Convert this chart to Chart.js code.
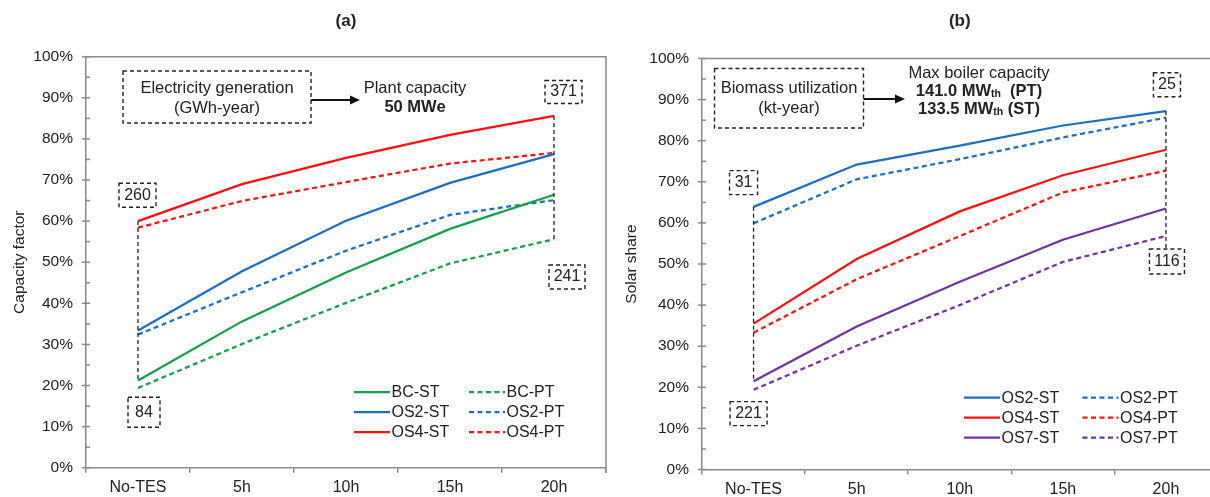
<!DOCTYPE html>
<html>
<head>
<meta charset="utf-8">
<script src="https://cdn.jsdelivr.net/npm/chart.js@4/dist/chart.umd.min.js"></script>
<style>
  html, body { margin: 0; padding: 0; background: #fff; overflow: hidden; width: 1210px; height: 497px; }
  .panel { position: absolute; top: 0; height: 497px; }
  #panelA { left: 0; width: 612px; }
  #panelB { left: 612px; width: 620px; }
</style>
</head>
<body>
<div class="panel" id="panelA"><canvas id="chartA"></canvas></div>
<div class="panel" id="panelB"><canvas id="chartB"></canvas></div>
<script>
// Storage sizes on the x axis
const storageHours = ['No-TES', '5h', '10h', '15h', '20h'];

// (a) Capacity factor, %
const capBcSt  = [21.2, 35.6, 47.5, 58.1, 66.4];
const capBcPt  = [19.4, 30.1, 40.1, 49.7, 55.6];
const capOs2St = [33.4, 47.8, 60.1, 69.3, 76.3];
const capOs2Pt = [32.4, 42.7, 52.8, 61.5, 65.1];
const capOs4St = [60.0, 69.0, 75.4, 81.0, 85.6];
const capOs4Pt = [58.4, 64.9, 69.5, 74.0, 76.6];

// (b) Solar share, %
const solOs2St = [63.9, 74.2, 78.8, 83.7, 87.2];
const solOs2Pt = [59.9, 70.6, 75.5, 80.8, 85.6];
const solOs4St = [35.5, 51.2, 62.8, 71.6, 77.8];
const solOs4Pt = [33.3, 46.3, 56.8, 67.4, 72.7];
const solOs7St = [21.5, 34.8, 45.7, 55.9, 63.5];
const solOs7Pt = [19.4, 30.1, 40.0, 50.5, 56.8];

// Boxed annual totals (GWh-year in a, kt-year in b)
const genLabels = ['260', '84', '241', '371'];
const bioLabels = ['31', '221', '25', '116'];

const FAMILY = '"Liberation Sans", Arial, Helvetica, sans-serif';
const INK = '#222222';
const AXIS = '#8a8a8a';
const GREEN = '#14a04b';
const BLUE = '#1b6fc3';
const RED = '#ff1010';
const PURPLE = '#7232a0';
const DASH = [5, 3.5];
const FS = 15.5;      // axis tick labels
const FS_NOTE = 16.5; // annotation text
const FS_LEG = 16;    // legend and boxed values

function font(size, bold) { return (bold ? 'bold ' : '') + size + 'px ' + FAMILY; }

function drawLines(ctx, lines, cx, baseSize) {
  // lines: [{y, parts:[{t, bold, size, dy}]}]
  ctx.textBaseline = 'middle';
  ctx.textAlign = 'left';
  ctx.fillStyle = INK;
  for (const ln of lines) {
    let w = 0;
    for (const p of ln.parts) { ctx.font = font(p.size || baseSize, p.bold); w += ctx.measureText(p.t).width; }
    let x = cx - w / 2;
    for (const p of ln.parts) {
      ctx.font = font(p.size || baseSize, p.bold);
      ctx.fillText(p.t, x, ln.y + (p.dy || 0));
      x += ctx.measureText(p.t).width;
    }
  }
}

function dashedBox(ctx, x, y, w, h) {
  ctx.save();
  ctx.setLineDash([4, 3]);
  ctx.lineWidth = 1.4;
  ctx.strokeStyle = INK;
  ctx.strokeRect(x, y, w, h);
  ctx.restore();
}

function decorPlugin(cfg) {
  return {
    id: 'decor',
    afterDraw(chart) {
      const { ctx, chartArea: a, scales: { x, y } } = chart;
      ctx.save();

      // frame on top and right
      ctx.strokeStyle = AXIS;
      ctx.lineWidth = 1.5;
      ctx.beginPath();
      ctx.moveTo(a.left, a.top);
      ctx.lineTo(a.right, a.top);
      ctx.lineTo(a.right, a.bottom + 5);
      ctx.stroke();

      // y ticks: major crossing, minor inside
      for (let v = 0; v <= 100; v += 5) {
        const py = y.getPixelForValue(v);
        const major = v % 10 === 0;
        ctx.beginPath();
        ctx.moveTo(a.left - (major ? 4 : 0), py);
        ctx.lineTo(a.left + 4, py);
        ctx.stroke();
      }

      // panel title
      ctx.fillStyle = INK;
      ctx.font = font(17, true);
      ctx.textAlign = 'center';
      ctx.textBaseline = 'middle';
      ctx.fillText(cfg.title, (a.left + a.right) / 2, 21);

      // dashed brackets spanning the spread at a storage size
      const sets = chart.data.datasets;
      ctx.setLineDash([4, 3]);
      ctx.lineWidth = 1.3;
      ctx.strokeStyle = INK;
      for (const b of cfg.brackets) {
        const vals = sets.map(s => s.data[b.cat]);
        const top = Math.max(...vals);
        const bottom = typeof b.to === 'number' ? b.to : sets.find(s => s.label === b.to).data[b.cat];
        const px = x.getPixelForValue(b.cat);
        ctx.beginPath();
        ctx.moveTo(px, y.getPixelForValue(top));
        ctx.lineTo(px, y.getPixelForValue(bottom));
        ctx.stroke();
      }
      ctx.setLineDash([]);

      // boxed values
      for (const bx of cfg.boxes) {
        const cx = x.getPixelForValue(bx.cat) + bx.dx;
        const cy = y.getPixelForValue(bx.v);
        dashedBox(ctx, cx - bx.w / 2, cy - bx.h / 2, bx.w, bx.h);
        drawLines(ctx, [{ y: cy, parts: [{ t: bx.text }] }], cx, FS_LEG);
      }

      // explanatory box, arrow and heading
      const n = cfg.note;
      dashedBox(ctx, a.left + n.box[0], a.top + n.box[1], n.box[2], n.box[3]);
      drawLines(ctx, n.boxLines.map(l => ({ y: a.top + l.y, parts: l.parts })), a.left + n.box[0] + n.box[2] / 2, FS_NOTE);
      const ay = a.top + n.arrow[2];
      const ax0 = a.left + n.arrow[0], ax1 = a.left + n.arrow[1];
      ctx.strokeStyle = '#111';
      ctx.fillStyle = '#111';
      ctx.lineWidth = 2;
      ctx.beginPath(); ctx.moveTo(ax0, ay); ctx.lineTo(ax1 - 8, ay); ctx.stroke();
      ctx.beginPath(); ctx.moveTo(ax1, ay); ctx.lineTo(ax1 - 10, ay - 4.5); ctx.lineTo(ax1 - 10, ay + 4.5); ctx.closePath(); ctx.fill();
      drawLines(ctx, n.head.map(l => ({ y: a.top + l.y, parts: l.parts })), a.left + n.headX, FS_NOTE);

      // legend in two columns, built from the datasets
      const lg = cfg.legend;
      ctx.font = font(FS_LEG, false);
      ctx.textAlign = 'left';
      ctx.textBaseline = 'middle';
      sets.forEach((s, i) => {
        const col = i % 2, row = Math.floor(i / 2);
        const lx = a.left + lg.cols[col];
        const ly = a.top + lg.row0 + row * lg.step;
        ctx.strokeStyle = s.borderColor;
        ctx.lineWidth = s.borderWidth;
        ctx.setLineDash(s.borderDash || []);
        ctx.beginPath(); ctx.moveTo(lx, ly); ctx.lineTo(lx + lg.len, ly); ctx.stroke();
        ctx.setLineDash([]);
        ctx.fillStyle = INK;
        ctx.fillText(s.label, lx + lg.len + 1.5, ly + 0.5);
      });

      ctx.restore();
    }
  };
}

function makePanel(canvasId, cfg) {
  return new Chart(document.getElementById(canvasId), {
    type: 'line',
    data: {
      labels: storageHours,
      datasets: cfg.series.map(s => ({
        label: s.label,
        data: s.data,
        borderColor: s.color,
        backgroundColor: s.color,
        borderDash: s.dashed ? DASH : [],
        borderWidth: 2.25,
        pointRadius: 0,
        fill: false,
        tension: 0
      }))
    },
    options: {
      responsive: true,
      maintainAspectRatio: false,
      animation: false,
      layout: { padding: { top: cfg.top, right: cfg.right, left: 0, bottom: 0 } },
      plugins: { legend: { display: false }, tooltip: { enabled: false }, title: { display: false } },
      scales: {
        x: {
          type: 'category',
          offset: true,
          grid: { display: true, offset: true, drawOnChartArea: false, drawTicks: true, tickLength: 5, color: AXIS, lineWidth: 1.5 },
          border: { display: true, color: AXIS, width: 1.5 },
          ticks: { color: INK, font: { family: FAMILY, size: 16 }, padding: 5, maxRotation: 0, autoSkip: false },
          afterFit: s => { s.height = cfg.xHeight; }
        },
        y: {
          min: 0,
          max: 100,
          grid: { display: false, drawTicks: false },
          border: { display: true, color: AXIS, width: 1.5 },
          ticks: { stepSize: 10, color: INK, font: { family: FAMILY, size: FS }, padding: 13, callback: v => v + '%' },
          title: { display: true, text: cfg.yTitle, color: INK, font: { family: FAMILY, size: FS }, padding: { top: 10, bottom: 0 } },
          afterFit: s => { s.width = cfg.yWidth; }
        }
      }
    },
    plugins: [decorPlugin(cfg)]
  });
}

makePanel('chartA', {
  title: '(a)',
  yTitle: 'Capacity factor',
  top: 56.7, right: 6, xHeight: 29.3, yWidth: 86,
  series: [
    { label: 'BC-ST', data: capBcSt, color: GREEN, dashed: false },
    { label: 'BC-PT', data: capBcPt, color: GREEN, dashed: true },
    { label: 'OS2-ST', data: capOs2St, color: BLUE, dashed: false },
    { label: 'OS2-PT', data: capOs2Pt, color: BLUE, dashed: true },
    { label: 'OS4-ST', data: capOs4St, color: RED, dashed: false },
    { label: 'OS4-PT', data: capOs4Pt, color: RED, dashed: true }
  ],
  brackets: [{ cat: 0, to: 'BC-ST' }, { cat: 4, to: 'BC-PT' }],
  boxes: [
    { text: genLabels[0], cat: 0, dx: -0.5, v: 66.3, w: 37, h: 24 },
    { text: genLabels[1], cat: 0, dx: 6, v: 13.5, w: 32, h: 30 },
    { text: genLabels[2], cat: 4, dx: 13, v: 46.4, w: 36, h: 24 },
    { text: genLabels[3], cat: 4, dx: 9.5, v: 91.4, w: 37, h: 23 }
  ],
  note: {
    box: [37, 14.3, 188, 52],
    boxLines: [
      { y: 31.3, parts: [{ t: 'Electricity generation' }] },
      { y: 51.3, parts: [{ t: '(GWh-year)' }] }
    ],
    arrow: [225, 274, 43.3],
    headX: 329,
    head: [
      { y: 31.3, parts: [{ t: 'Plant capacity' }] },
      { y: 50.3, parts: [{ t: '50 MWe', bold: true }] }
    ]
  },
  legend: { cols: [268, 383], row0: 335.3, step: 20, len: 36 }
});

makePanel('chartB', {
  title: '(b)',
  yTitle: 'Solar share',
  top: 58.5, right: 14.5, xHeight: 27.5, yWidth: 90,
  series: [
    { label: 'OS2-ST', data: solOs2St, color: BLUE, dashed: false },
    { label: 'OS2-PT', data: solOs2Pt, color: BLUE, dashed: true },
    { label: 'OS4-ST', data: solOs4St, color: RED, dashed: false },
    { label: 'OS4-PT', data: solOs4Pt, color: RED, dashed: true },
    { label: 'OS7-ST', data: solOs7St, color: PURPLE, dashed: false },
    { label: 'OS7-PT', data: solOs7Pt, color: PURPLE, dashed: true }
  ],
  brackets: [{ cat: 0, to: 'OS7-ST' }, { cat: 4, to: 53.6 }],
  boxes: [
    { text: bioLabels[0], cat: 0, dx: -10, v: 69.8, w: 28, h: 24 },
    { text: bioLabels[1], cat: 0, dx: -5, v: 13.6, w: 37, h: 24 },
    { text: bioLabels[2], cat: 4, dx: 1, v: 93.6, w: 27, h: 24 },
    { text: bioLabels[3], cat: 4, dx: 1, v: 50.6, w: 35, h: 25 }
  ],
  note: {
    box: [12.5, 10, 149, 59.5],
    boxLines: [
      { y: 29.5, parts: [{ t: 'Biomass utilization' }] },
      { y: 49.5, parts: [{ t: '(kt-year)' }] }
    ],
    arrow: [161.5, 203, 40.5],
    headX: 277,
    head: [
      { y: 14.5, parts: [{ t: 'Max boiler capacity' }] },
      { y: 32.5, parts: [{ t: '141.0 MW', bold: true }, { t: 'th', bold: true, size: 10.5, dy: 3.5 }, { t: '  (PT)', bold: true }] },
      { y: 50.5, parts: [{ t: '133.5 MW', bold: true }, { t: 'th', bold: true, size: 10.5, dy: 3.5 }, { t: ' (ST)', bold: true }] }
    ]
  },
  legend: { cols: [262, 380.5], row0: 339.2, step: 20, len: 36 }
});
</script>
</body>
</html>
